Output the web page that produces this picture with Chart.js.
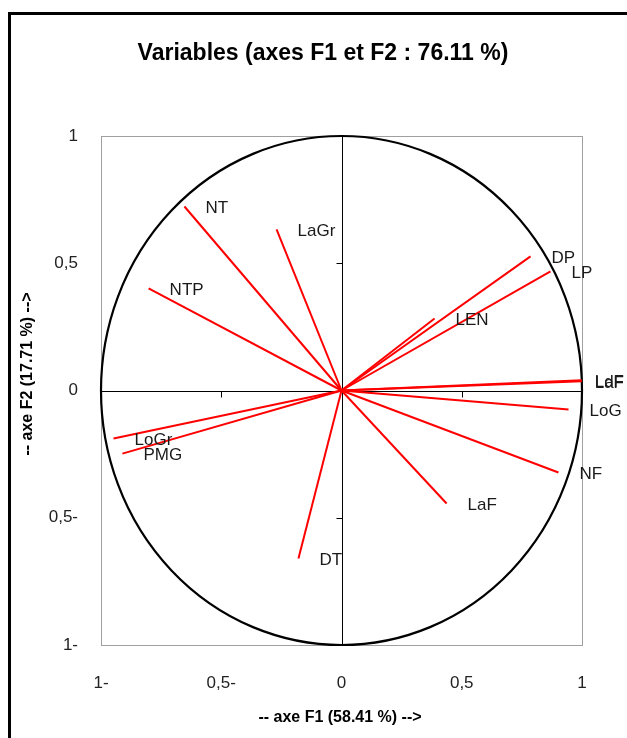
<!DOCTYPE html>
<html>
<head>
<meta charset="utf-8">
<script src="https://cdn.jsdelivr.net/npm/chart.js@4/dist/chart.umd.min.js"></script>
<style>
html,body{margin:0;padding:0;background:#fff;}
canvas{display:block;}
</style>
</head>
<body>
<canvas id="c" width="627" height="738"></canvas>
<script>
// Variables and their coordinates on F1 / F2
const varNames = ['NT','LaGr','NTP','DP','LP','LEN','LdF','LaF','LoG','NF','LaF','DT','LoGr','PMG'];
const f1Values = [-0.653,-0.270,-0.802,0.786,0.869,0.387,0.999,0.999,0.944,0.902,0.437,-0.179,-0.948,-0.911];
const f2Values = [0.723,0.633,0.401,0.527,0.468,0.283,0.040,0.036,-0.075,-0.322,-0.444,-0.660,-0.189,-0.248];
const tickValues = [-1,-0.5,0,0.5,1];
const tickLabels = ['1-','0,5-','0','0,5','1'];
const chartTitle = 'Variables (axes F1 et F2 : 76.11 %)';
const xTitle = '-- axe F1 (58.41 %) -->';
const yTitle = '-- axe F2 (17.71 %) -->';

const datasets = varNames.map((n,i)=>({
  label:n,
  data:[{x:0,y:0},{x:f1Values[i],y:f2Values[i]}],
  showLine:true,
  borderColor:'#ff0000',
  borderWidth:2,
  pointRadius:0,
  fill:false
}));

function tickText(v){
  const i = tickValues.findIndex(t=>Math.abs(t-v)<1e-9);
  return i>=0 ? tickLabels[i] : '';
}

const decor = {
  id:'decor',
  beforeDraw(chart){
    const ctx = chart.ctx;
    ctx.save();
    ctx.fillStyle='#fff';
    ctx.fillRect(0,0,chart.width,chart.height);
    ctx.strokeStyle='#000';
    ctx.lineWidth=3;
    ctx.beginPath();
    ctx.moveTo(9.5,chart.height+5);
    ctx.lineTo(9.5,13.5);
    ctx.lineTo(chart.width+5,13.5);
    ctx.stroke();
    ctx.restore();
  },
  beforeDatasetsDraw(chart){
    const ctx = chart.ctx, a = chart.chartArea;
    const xs = chart.scales.x, ys = chart.scales.y;
    ctx.save();
    // plot frame
    ctx.strokeStyle='#a0a0a0';
    ctx.lineWidth=1;
    ctx.strokeRect(Math.round(a.left)+0.5,Math.round(a.top)+0.5,Math.round(a.right-a.left),Math.round(a.bottom-a.top));
    // central axes
    const x0 = Math.round(xs.getPixelForValue(0))+0.5;
    const y0 = Math.round(ys.getPixelForValue(0))+0.5;
    ctx.strokeStyle='#000';
    ctx.beginPath();
    ctx.moveTo(x0,a.top); ctx.lineTo(x0,a.bottom);
    ctx.moveTo(a.left,y0); ctx.lineTo(a.right,y0);
    [-0.5,0.5].forEach(v=>{
      const py = Math.round(ys.getPixelForValue(v))+0.5;
      ctx.moveTo(x0-6,py); ctx.lineTo(x0,py);
      const px = Math.round(xs.getPixelForValue(v))+0.5;
      ctx.moveTo(px,y0); ctx.lineTo(px,y0+6);
    });
    ctx.stroke();
    // correlation circle
    const cx = xs.getPixelForValue(0), cy = ys.getPixelForValue(0);
    const rx = xs.getPixelForValue(1)-cx, ry = cy-ys.getPixelForValue(1);
    ctx.lineWidth=2.2;
    ctx.beginPath();
    ctx.ellipse(cx,cy,rx,ry,0,0,Math.PI*2);
    ctx.stroke();
    ctx.restore();
  },
  afterDraw(chart){
    const ctx = chart.ctx;
    const xs = chart.scales.x, ys = chart.scales.y;
    ctx.save();
    ctx.fillStyle='#1a1a1a';
    ctx.font='17px "Liberation Sans", Arial, sans-serif';
    ctx.textBaseline='middle';
    ctx.textAlign='left';
    varNames.forEach((n,i)=>{
      const px = xs.getPixelForValue(f1Values[i]);
      const py = ys.getPixelForValue(f2Values[i]);
      const w = ctx.measureText(n).width;
      const lx = Math.min(px+21, chart.width-3-w);
      ctx.fillText(n,lx,py+2);
    });
    // title
    ctx.fillStyle='#000';
    ctx.textAlign='center';
    ctx.font='bold 23px "Liberation Sans", Arial, sans-serif';
    ctx.fillText(chartTitle,323,54);
    // axis titles
    ctx.font='bold 16px "Liberation Sans", Arial, sans-serif';
    ctx.fillText(xTitle,340,718);
    ctx.translate(28,374);
    ctx.rotate(-Math.PI/2);
    ctx.fillText(yTitle,0,0);
    ctx.restore();
  }
};

new Chart(document.getElementById('c'),{
  type:'scatter',
  data:{datasets},
  options:{
    responsive:false,
    animation:false,
    devicePixelRatio:1,
    layout:{padding:{left:0,right:45,top:136,bottom:0}},
    plugins:{legend:{display:false},tooltip:{enabled:false},title:{display:false}},
    scales:{
      x:{
        type:'linear',min:-1,max:1,
        grid:{display:false,drawTicks:false},
        border:{display:false},
        afterFit(s){s.height=93;},
        ticks:{stepSize:0.5,autoSkip:false,maxRotation:0,padding:28,color:'#222',
          font:{family:'"Liberation Sans", Arial, sans-serif',size:17},
          callback:(v)=>tickText(v)}
      },
      y:{
        type:'linear',min:-1,max:1,
        grid:{display:false,drawTicks:false},
        border:{display:false},
        afterFit(s){s.width=101;},
        ticks:{stepSize:0.5,autoSkip:false,padding:23,color:'#222',
          font:{family:'"Liberation Sans", Arial, sans-serif',size:17},
          callback:(v)=>tickText(v)}
      }
    }
  },
  plugins:[decor]
});
</script>
</body>
</html>
